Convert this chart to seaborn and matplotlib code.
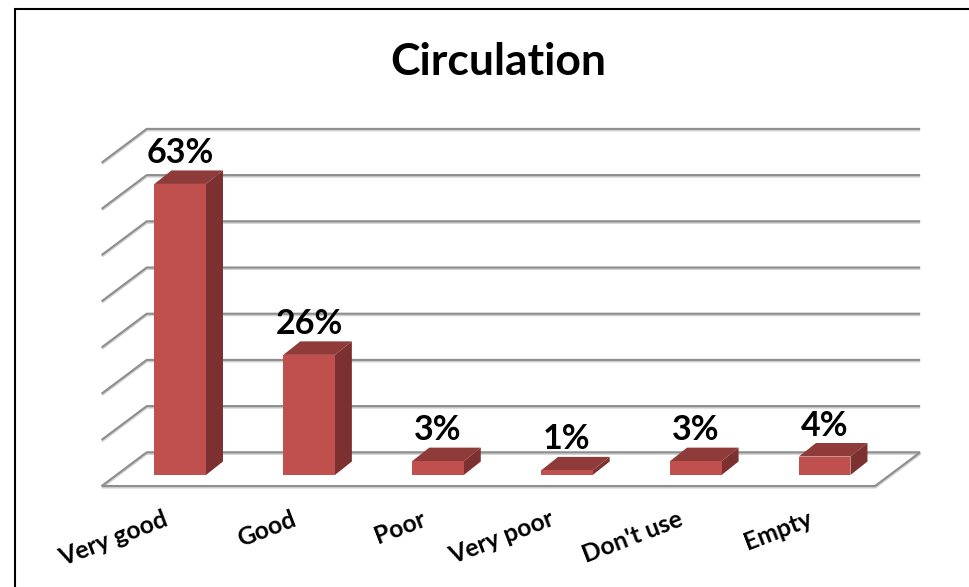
import matplotlib
matplotlib.use("Agg")
import matplotlib.pyplot as plt
from matplotlib.lines import Line2D
from matplotlib.patches import Polygon
from matplotlib.transforms import ScaledTranslation
import seaborn as sns

categories = ["Very good", "Good", "Poor", "Very poor", "Don't use", "Empty"]
values = [63, 26, 3, 1, 3, 4]
grid_levels = [0, 10, 20, 30, 40, 50, 60, 70]

W, H = 970, 587
DPI = 100
FRONT = "#C0504D"
SIDE = "#7C3130"
TOP = "#8F3B39"
GRID = "#8E8E8E"
SHADOW = "#CFCFCF"

# bar plane in picture pixels, the chart is a faked 3d projection
STEP_PX = 128.9
PCT_PX = 4.62
LEFT_PX = 115.75
BASE_PX = 475.0

sns.set_theme(style="white")
plt.rcParams["font.family"] = ["Lato", "DejaVu Sans"]

fig = plt.figure(figsize=(W / DPI, H / DPI), dpi=DPI, facecolor="white")
ax = fig.add_axes([
    LEFT_PX / W,
    1 - BASE_PX / H,
    6 * STEP_PX / W,
    70 * PCT_PX / H,
])
ax.patch.set_visible(False)


def dx(px):
    return px / STEP_PX


def dy(px):
    return px / PCT_PX


sns.barplot(x=categories, y=values, color=FRONT, saturation=1, width=0.4, ax=ax,
            zorder=4, linewidth=0, edgecolor="none")
ax.set_xlim(-0.5, 5.5)
ax.set_ylim(0, 70)
sns.despine(ax=ax, left=True, bottom=True)
ax.set_yticks([])
ax.set_ylabel("")
ax.tick_params(axis="x", length=0)


def wall_line(xs, ys):
    ax.plot(xs, ys, color=SHADOW, lw=2.2, clip_on=False, zorder=1,
            transform=ax.transData + ScaledTranslation(0, -1 / DPI, fig.dpi_scale_trans),
            solid_capstyle="butt")
    ax.plot(xs, ys, color=GRID, lw=1.5, clip_on=False, zorder=2, solid_capstyle="butt")


# back wall and side wall
x0, x1 = -0.5, 5.5
back_x, back_y = dx(31), dy(22.7)
front_x, front_y = dx(-14), dy(-11)
for level in grid_levels:
    wall_line([x0 + front_x, x0 + back_x, x1 + back_x],
              [level + front_y, level + back_y, level + back_y])
# floor
wall_line([x0 + front_x, x1 + front_x, x1 + back_x],
          [front_y, front_y, back_y])

# depth faces built from the seaborn bars
depth_x, depth_y = dx(17), dy(13.5)
for bar, value in zip(ax.patches, values):
    left = bar.get_x()
    right = left + bar.get_width()
    height = bar.get_height()
    ax.add_patch(Polygon(
        [(right, 0), (right + depth_x, depth_y), (right + depth_x, height + depth_y), (right, height)],
        closed=True, facecolor=SIDE, edgecolor="none", clip_on=False, zorder=3,
    ))
    ax.add_patch(Polygon(
        [(left, height), (right, height), (right + depth_x, height + depth_y), (left + depth_x, height + depth_y)],
        closed=True, facecolor=TOP, edgecolor="none", clip_on=False, zorder=3,
    ))
    ax.annotate(f"{value}%", (left + bar.get_width() / 2, height),
                xytext=(0, 21 * 72 / DPI), textcoords="offset points",
                ha="center", va="baseline", fontsize=24.5, fontweight="bold",
                color="black", annotation_clip=False, zorder=6)

# category labels
ax.set_xticks(range(len(categories)))
ax.set_xticklabels(categories, rotation=21, ha="right", va="baseline",
                   rotation_mode="anchor", fontsize=17.8, fontweight="bold", color="black")
ax.tick_params(axis="x", pad=0)
shift = ScaledTranslation(-11 / DPI, -50 / DPI, fig.dpi_scale_trans)
for label in ax.get_xticklabels():
    label.set_transform(label.get_transform() + shift)

fig.text(498 / W, 1 - 75 / H, "Circulation", ha="center", va="baseline",
         fontsize=32, fontweight="bold", color="black")

# frame of the picture, only top and left are in view
fig.add_artist(Line2D([15.5 / W, 15.5 / W, 1], [0, 1 - 9 / H, 1 - 9 / H],
                      color="black", lw=1.5, solid_joinstyle="miter"))

fig.savefig("out.png", dpi=DPI)
